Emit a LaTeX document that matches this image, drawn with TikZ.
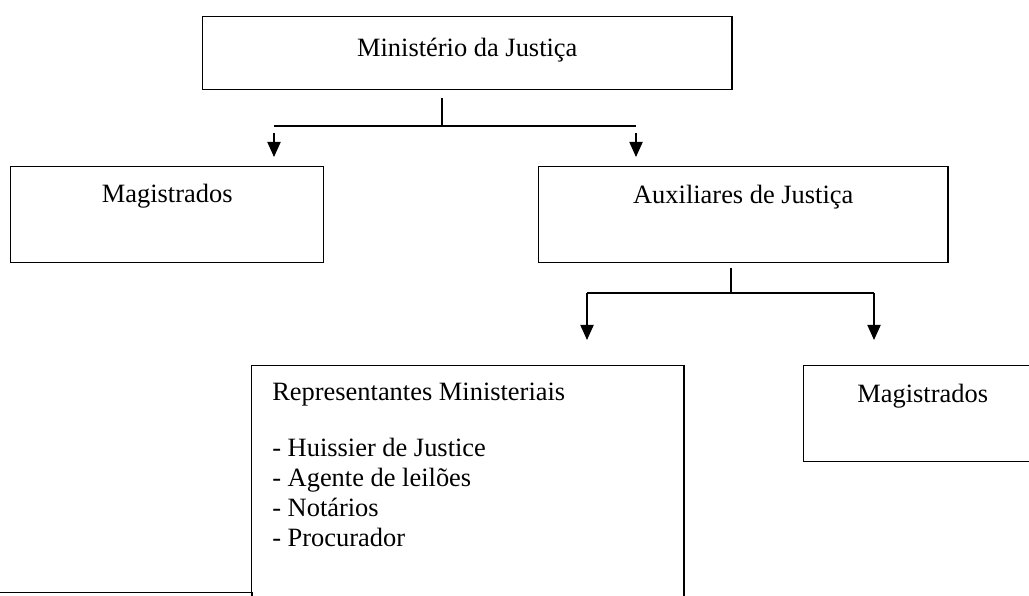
\documentclass[tikz,border=0pt]{standalone}
\usepackage{fontspec}
\setmainfont{Liberation Serif}
\usetikzlibrary{arrows.meta}
\tikzset{
  orgbox/.style={draw, line width=1pt, rectangle, inner sep=0pt, anchor=north west,
    font=\fontsize{18.8}{22.5}\selectfont},
  linha/.style={anchor=base west, inner sep=0pt, font=\fontsize{18.8}{22.5}\selectfont},
  link/.style={line width=0.85pt},
  down/.style={link, -{Triangle[length=0.375cm, width=0.33cm]}}
}
\begin{document}
\begin{tikzpicture}[x=0.025cm, y=-0.025cm]
\useasboundingbox (0,0) rectangle (1029,596);
\clip (0,0) rectangle (1029,596);
% caixas
\node[orgbox, minimum width=13.225cm, text height=1cm, text depth=0.825cm] (min) at (202,16) {Ministério da Justiça};
\node[orgbox, minimum width=7.825cm, text height=0.9cm, text depth=1.5cm] (mag) at (10,166) {Magistrados};
\node[orgbox, minimum width=10.225cm, text height=0.925cm, text depth=1.475cm] (aux) at (538,166) {Auxiliares de Justiça};
\node[orgbox, minimum width=10.8cm, minimum height=7cm] (rep) at (251,365) {};
\node[orgbox, minimum width=5.95cm, text height=0.925cm, text depth=1.475cm] (mag2) at (803,365) {Magistrados};
\node[orgbox, minimum width=11.275cm, minimum height=3cm] (outro) at (-200,592) {};
% texto dos representantes
\node[linha] (rt) at (272,400) {Representantes Ministeriais};
\foreach \y/\t [count=\i] in {456/- Huissier de Justice, 486/- Agente de leilões, 516/- Notários, 546/- Procurador}
  \node[linha] (r\i) at (272,\y) {\t};
% ligacoes de cima
\coordinate (mt) at (442,98);
\coordinate (ml) at (274,126);
\coordinate (mr) at (636,126);
\draw[link] (mt) -- (mt |- ml);
\draw[link] (ml) -- (mr);
\draw[down, shorten <=0.175cm, shorten >=0.225cm] (ml) -- (ml |- mag.north);
\draw[down, shorten <=0.175cm, shorten >=0.225cm] (mr) -- (mr |- aux.north);
% ligacoes de baixo
\coordinate (at) at (731,268);
\coordinate (al) at (587,293);
\coordinate (ar) at (874,293);
\draw[link] (at) -- (at |- al);
\draw[link] (al) -- (ar);
\draw[down, shorten >=0.625cm] (al) -- (al |- rep.north);
\draw[down, shorten >=0.625cm] (ar) -- (ar |- mag2.north);
\end{tikzpicture}
\end{document}
